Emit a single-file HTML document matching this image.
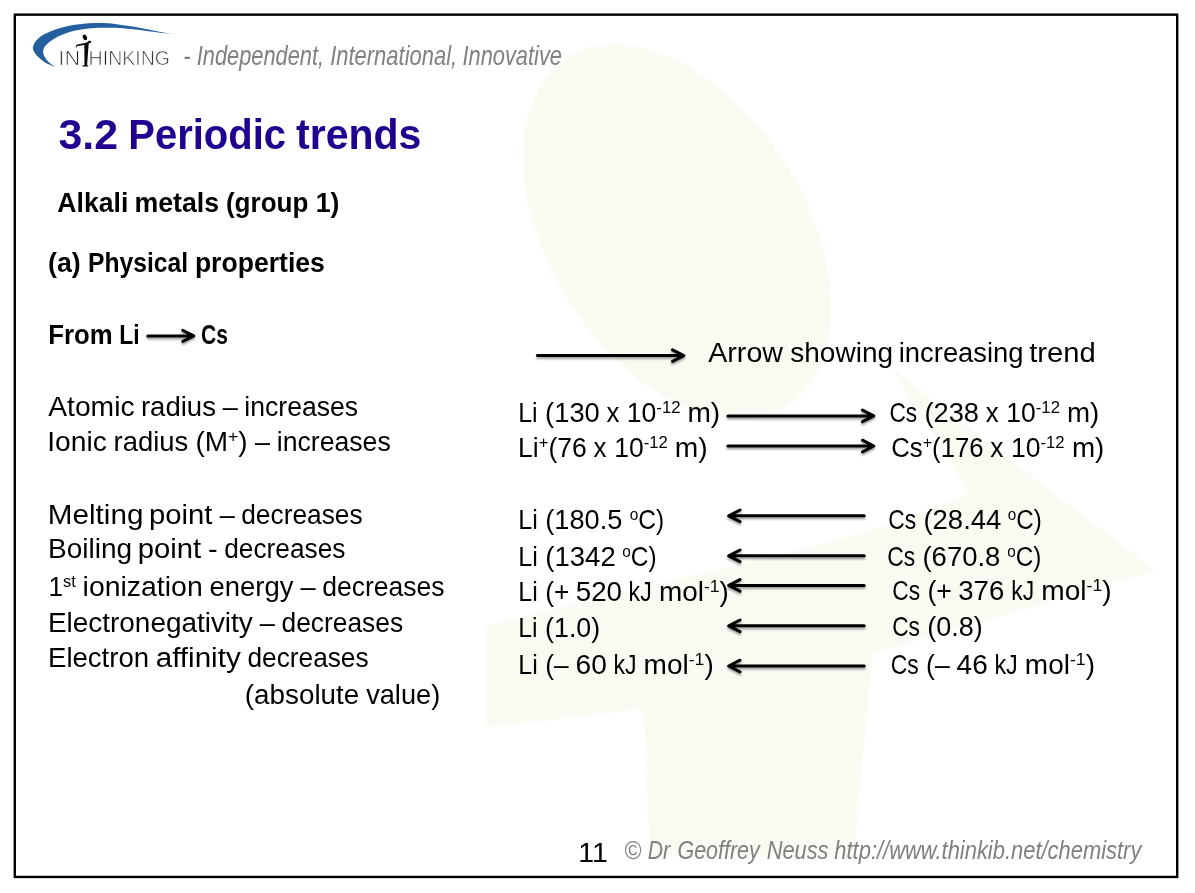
<!DOCTYPE html>
<html lang="en"><head><meta charset="utf-8"><title>3.2 Periodic trends</title>
<style>
html,body{margin:0;padding:0;background:#fff}
body{width:1195px;height:893px;overflow:hidden}
svg{display:block;font-family:"Liberation Sans", sans-serif}
text{white-space:pre}
#tx{opacity:0.999}
</style></head>
<body>
<svg width="1195" height="893" viewBox="0 0 1195 893">
<defs><filter id="sh" x="-5%" y="-100%" width="110%" height="300%"><feGaussianBlur in="SourceAlpha" stdDeviation="1.1"/><feOffset dx="0.3" dy="1.6"/><feComponentTransfer><feFuncA type="linear" slope="0.38"/></feComponentTransfer><feMerge><feMergeNode/><feMergeNode in="SourceGraphic"/></feMerge></filter><filter id="wb" x="-2%" y="-2%" width="104%" height="104%"><feGaussianBlur stdDeviation="0.9"/></filter></defs>
<rect width="1195" height="893" fill="#fff"/>
<g fill="#faf9f2" filter="url(#wb)">
<ellipse cx="677" cy="232" rx="206" ry="128.6" transform="rotate(58 677 232)"/>
<path d="M486.6 625.6 L800 549.5 Q905.4 523.9 968.8 492.2 L891.4 368 L1155.2 570.7 L877 652.4 Q872.6 653.7 872.2 658 L853.5 855.5 L650.3 855.5 L643.6 713 Q643.4 709.2 639.5 709.6 L486.6 727.4Z"/>
</g>
<rect x="14.8" y="14.65" width="1162.4" height="862.3" fill="none" stroke="#000" stroke-width="2.4"/>
<path fill="#24609f" d="M55.1 67.2C53.4 66.4 47.6 63.9 44.7 62.2C41.9 60.5 39.8 58.6 38.0 56.8C36.2 55.0 34.8 53.0 34.0 51.5C33.2 50.0 33.0 49.3 33.0 48.1C33.0 46.9 33.2 45.7 34.0 44.1C34.8 42.5 36.2 40.4 38.0 38.7C39.8 37.0 41.9 35.6 44.7 34.1C47.5 32.6 50.9 31.1 54.8 29.7C58.7 28.3 63.8 26.9 68.2 26.0C72.7 25.1 77.0 24.5 81.5 24.0C86.0 23.5 90.5 23.1 94.9 23.0C99.3 22.9 104.1 23.0 108.0 23.2C111.9 23.4 113.1 23.7 118.1 24.4C123.1 25.1 131.5 26.2 138.2 27.4C144.9 28.6 152.4 30.3 158.2 31.4C164.0 32.5 170.5 33.7 173.0 34.2C170.5 33.9 164.0 33.2 158.2 32.5C152.4 31.8 144.9 30.6 138.2 29.8C131.5 29.1 123.1 28.3 118.1 28.0C113.1 27.7 111.9 27.8 108.0 27.8C104.1 27.8 99.3 27.7 94.9 28.0C90.5 28.3 86.0 28.7 81.5 29.4C77.0 30.1 72.1 31.2 68.2 32.4C64.3 33.6 61.1 34.9 58.1 36.4C55.1 37.9 52.3 39.7 50.1 41.4C47.9 43.1 45.9 45.1 44.7 46.8C43.5 48.5 43.2 49.9 43.1 51.5C43.0 53.1 43.6 54.5 44.4 56.2C45.2 57.9 46.3 59.7 48.1 61.5C49.9 63.3 53.9 66.2 55.1 67.2Z"/>
<g fill="#0a0a0a"><ellipse cx="84.9" cy="37.4" rx="2.0" ry="2.9" transform="rotate(-25 84.9 37.4)"/><path d="M75.8 48.6 C75.7 46.6 76 45.2 77.4 44.6 C80.5 43.9 84 43.4 86.8 42.6 L89.3 40.6 L91.7 41.7 L90.6 42.8 L88.7 43.4 L87.1 65 L88.3 65.8 L88.3 66.6 L82.2 66.6 L82.2 65.8 L84.5 65 L84.3 44.9 C82 45.3 79.6 45.6 77.6 46 C76.6 46.4 76.3 47.4 75.8 48.6Z"/></g>
<g fill="none" stroke="#000" stroke-width="3" stroke-linecap="round" stroke-linejoin="round" filter="url(#sh)">
<path d="M147.80 335.90H193.30 M182.80 330.40L193.80 335.90L182.80 341.40"/>
<path d="M537.40 355.60H683.30 M672.50 349.80L683.80 355.60L672.50 361.40"/>
<path d="M727.90 415.90H873.30 M862.50 410.10L873.80 415.90L862.50 421.70"/>
<path d="M727.90 446.00H873.30 M862.50 440.20L873.80 446.00L862.50 451.80"/>
<path d="M864.20 515.80H729.20 M740.00 510.00L728.70 515.80L740.00 521.60"/>
<path d="M864.20 555.80H729.20 M740.00 550.00L728.70 555.80L740.00 561.60"/>
<path d="M864.20 585.40H729.20 M740.00 579.60L728.70 585.40L740.00 591.20"/>
<path d="M864.20 625.80H729.20 M740.00 620.00L728.70 625.80L740.00 631.60"/>
<path d="M864.20 666.00H729.20 M740.00 660.20L728.70 666.00L740.00 671.80"/>
</g>
<g id="tx">
<text transform="translate(183.17 64.90) scale(0.8318 1)" font-size="27" fill="#808080" font-style="italic">- </text>
<text transform="translate(196.80 64.90) scale(0.8078 1)" font-size="27" fill="#808080" font-style="italic">Independent, </text>
<text transform="translate(330.14 64.90) scale(0.8142 1)" font-size="27" fill="#808080" font-style="italic">International, </text>
<text transform="translate(462.45 64.90) scale(0.8087 1)" font-size="27" fill="#808080" font-style="italic">Innovative</text>
<text transform="translate(58.50 148.70) scale(0.9962 1)" font-size="43" fill="#200090" font-weight="bold">3.2 </text>
<text transform="translate(128.21 148.70) scale(0.9305 1)" font-size="43" fill="#200090" font-weight="bold">Periodic </text>
<text transform="translate(296.08 148.70) scale(0.9541 1)" font-size="43" fill="#200090" font-weight="bold">trends</text>
<text transform="translate(57.31 211.75) scale(0.9852 1)" font-size="27" fill="#000" font-weight="bold">Alkali </text>
<text transform="translate(134.47 211.75) scale(0.9904 1)" font-size="27" fill="#000" font-weight="bold">metals </text>
<text transform="translate(225.93 211.75) scale(0.9661 1)" font-size="27" fill="#000" font-weight="bold">(group </text>
<text transform="translate(315.69 211.75) scale(0.9877 1)" font-size="27" fill="#000" font-weight="bold">1)</text>
<text transform="translate(48.04 271.75) scale(0.9931 1)" font-size="27" fill="#000" font-weight="bold">(a) </text>
<text transform="translate(87.98 271.75) scale(0.9129 1)" font-size="27" fill="#000" font-weight="bold">Physical </text>
<text transform="translate(194.88 271.75) scale(0.9846 1)" font-size="27" fill="#000" font-weight="bold">properties</text>
<text transform="translate(48.17 343.80) scale(0.9539 1)" font-size="27" fill="#000" font-weight="bold">From </text>
<text transform="translate(119.24 343.80) scale(0.8482 1)" font-size="27" fill="#000" font-weight="bold">Li</text>
<text transform="translate(201.08 343.80) scale(0.7801 1)" font-size="27" fill="#000" font-weight="bold">Cs</text>
<text transform="translate(48.22 415.95) scale(1.0469 1)" font-size="27" fill="#000">Atomic </text>
<text transform="translate(140.94 415.95) scale(1.0200 1)" font-size="27" fill="#000">radius </text>
<text transform="translate(222.82 415.95) scale(1.0072 1)" font-size="27" fill="#000">– </text>
<text transform="translate(244.32 415.95) scale(0.9852 1)" font-size="27" fill="#000">increases</text>
<text transform="translate(47.29 451.10) scale(1.0441 1)" font-size="27" fill="#000">Ionic </text>
<text transform="translate(113.51 451.10) scale(1.0160 1)" font-size="27" fill="#000">radius </text>
<text transform="translate(195.48 451.10) scale(1.0352 1)" font-size="27" fill="#000">(M<tspan dy="-9.1" font-size="17.0">+</tspan><tspan dy="9.1">)</tspan> </text>
<text transform="translate(255.04 451.10) scale(1.0072 1)" font-size="27" fill="#000">– </text>
<text transform="translate(276.73 451.10) scale(0.9868 1)" font-size="27" fill="#000">increases</text>
<text transform="translate(47.84 523.60) scale(1.0982 1)" font-size="27" fill="#000">Melting </text>
<text transform="translate(148.99 523.60) scale(1.0845 1)" font-size="27" fill="#000">point </text>
<text transform="translate(219.78 523.60) scale(1.0072 1)" font-size="27" fill="#000">– </text>
<text transform="translate(241.21 523.60) scale(0.9750 1)" font-size="27" fill="#000">decreases</text>
<text transform="translate(47.97 558.40) scale(1.0375 1)" font-size="27" fill="#000">Boiling </text>
<text transform="translate(137.69 558.40) scale(1.0830 1)" font-size="27" fill="#000">point </text>
<text transform="translate(207.96 558.40) scale(1.0763 1)" font-size="27" fill="#000">- </text>
<text transform="translate(224.18 558.40) scale(0.9737 1)" font-size="27" fill="#000">decreases</text>
<text transform="translate(48.38 595.80) scale(0.9707 1)" font-size="27" fill="#000">1<tspan dy="-9.1" font-size="17.0">st</tspan> </text>
<text transform="translate(82.58 595.80) scale(1.0534 1)" font-size="27" fill="#000">ionization </text>
<text transform="translate(209.50 595.80) scale(1.0170 1)" font-size="27" fill="#000">energy </text>
<text transform="translate(300.44 595.80) scale(1.0072 1)" font-size="27" fill="#000">– </text>
<text transform="translate(322.27 595.80) scale(0.9818 1)" font-size="27" fill="#000">decreases</text>
<text transform="translate(47.98 631.65) scale(1.0344 1)" font-size="27" fill="#000">Electronegativity </text>
<text transform="translate(259.87 631.65) scale(1.0072 1)" font-size="27" fill="#000">– </text>
<text transform="translate(281.53 631.65) scale(0.9765 1)" font-size="27" fill="#000">decreases</text>
<text transform="translate(48.01 666.75) scale(1.0213 1)" font-size="27" fill="#000">Electron </text>
<text transform="translate(155.67 666.75) scale(1.0970 1)" font-size="27" fill="#000">affinity </text>
<text transform="translate(247.45 666.75) scale(0.9731 1)" font-size="27" fill="#000">decreases</text>
<text transform="translate(244.83 703.70) scale(1.0308 1)" font-size="27" fill="#000">(absolute </text>
<text transform="translate(366.13 703.70) scale(1.0074 1)" font-size="27" fill="#000">value)</text>
<text transform="translate(708.21 361.95) scale(1.0611 1)" font-size="27" fill="#000">Arrow </text>
<text transform="translate(790.29 361.95) scale(1.0381 1)" font-size="27" fill="#000">showing </text>
<text transform="translate(898.77 361.95) scale(1.0141 1)" font-size="27" fill="#000">increasing </text>
<text transform="translate(1029.16 361.95) scale(1.0805 1)" font-size="27" fill="#000">trend</text>
<text transform="translate(518.22 421.75) scale(0.9261 1)" font-size="27" fill="#000">Li </text>
<text transform="translate(545.12 421.75) scale(1.0114 1)" font-size="27" fill="#000">(130 </text>
<text transform="translate(606.45 421.75) scale(0.9585 1)" font-size="27" fill="#000">x </text>
<text transform="translate(626.74 421.75) scale(0.9866 1)" font-size="27" fill="#000">10<tspan dy="-9.1" font-size="17.0">-12</tspan> </text>
<text transform="translate(687.43 421.75) scale(1.0413 1)" font-size="27" fill="#000">m)</text>
<text transform="translate(889.45 421.75) scale(0.8413 1)" font-size="27" fill="#000">Cs </text>
<text transform="translate(924.48 421.75) scale(1.0097 1)" font-size="27" fill="#000">(238 </text>
<text transform="translate(985.68 421.75) scale(0.9565 1)" font-size="27" fill="#000">x </text>
<text transform="translate(1006.36 421.75) scale(0.9807 1)" font-size="27" fill="#000">10<tspan dy="-9.1" font-size="17.0">-12</tspan> </text>
<text transform="translate(1066.91 421.75) scale(1.0252 1)" font-size="27" fill="#000">m)</text>
<text transform="translate(518.10 456.60) scale(0.9803 1)" font-size="27" fill="#000">Li<tspan dy="-9.1" font-size="17.0">+</tspan><tspan dy="9.1">(76</tspan> </text>
<text transform="translate(593.55 456.60) scale(0.9611 1)" font-size="27" fill="#000">x </text>
<text transform="translate(614.34 456.60) scale(0.9810 1)" font-size="27" fill="#000">10<tspan dy="-9.1" font-size="17.0">-12</tspan> </text>
<text transform="translate(674.74 456.60) scale(1.0442 1)" font-size="27" fill="#000">m)</text>
<text transform="translate(891.14 456.60) scale(0.9547 1)" font-size="27" fill="#000">Cs<tspan dy="-9.1" font-size="17.0">+</tspan><tspan dy="9.1">(176</tspan> </text>
<text transform="translate(990.22 456.60) scale(0.9798 1)" font-size="27" fill="#000">x </text>
<text transform="translate(1011.00 456.60) scale(0.9821 1)" font-size="27" fill="#000">10<tspan dy="-9.1" font-size="17.0">-12</tspan> </text>
<text transform="translate(1071.88 456.60) scale(1.0293 1)" font-size="27" fill="#000">m)</text>
<text transform="translate(518.21 528.95) scale(0.9317 1)" font-size="27" fill="#000">Li </text>
<text transform="translate(545.29 528.95) scale(1.0081 1)" font-size="27" fill="#000">(180.5 </text>
<text transform="translate(629.70 528.95) scale(0.9074 1)" font-size="27" fill="#000"><tspan dy="-9.1" font-size="17.0">o</tspan><tspan dy="9.1">C)</tspan></text>
<text transform="translate(888.30 528.70) scale(0.8435 1)" font-size="27" fill="#000">Cs </text>
<text transform="translate(923.40 528.70) scale(1.0195 1)" font-size="27" fill="#000">(28.44 </text>
<text transform="translate(1007.80 528.70) scale(0.8963 1)" font-size="27" fill="#000"><tspan dy="-9.1" font-size="17.0">o</tspan><tspan dy="9.1">C)</tspan></text>
<text transform="translate(518.21 565.60) scale(0.9331 1)" font-size="27" fill="#000">Li </text>
<text transform="translate(545.31 565.60) scale(1.0201 1)" font-size="27" fill="#000">(1342 </text>
<text transform="translate(622.31 565.60) scale(0.9041 1)" font-size="27" fill="#000"><tspan dy="-9.1" font-size="17.0">o</tspan><tspan dy="9.1">C)</tspan></text>
<text transform="translate(887.19 565.60) scale(0.8469 1)" font-size="27" fill="#000">Cs </text>
<text transform="translate(922.44 565.60) scale(1.0187 1)" font-size="27" fill="#000">(670.8 </text>
<text transform="translate(1007.17 565.60) scale(0.8998 1)" font-size="27" fill="#000"><tspan dy="-9.1" font-size="17.0">o</tspan><tspan dy="9.1">C)</tspan></text>
<text transform="translate(518.22 600.60) scale(0.9285 1)" font-size="27" fill="#000">Li </text>
<text transform="translate(545.25 600.60) scale(0.9780 1)" font-size="27" fill="#000">(+ </text>
<text transform="translate(575.76 600.60) scale(1.0276 1)" font-size="27" fill="#000">520 </text>
<text transform="translate(628.59 600.60) scale(0.8553 1)" font-size="27" fill="#000">kJ </text>
<text transform="translate(658.97 600.60) scale(1.0339 1)" font-size="27" fill="#000">mol<tspan dy="-9.1" font-size="17.0">-1</tspan><tspan dy="9.1">)</tspan></text>
<text transform="translate(892.19 600.40) scale(0.8461 1)" font-size="27" fill="#000">Cs </text>
<text transform="translate(927.46 600.40) scale(0.9894 1)" font-size="27" fill="#000">(+ </text>
<text transform="translate(958.32 600.40) scale(1.0199 1)" font-size="27" fill="#000">376 </text>
<text transform="translate(1011.31 600.40) scale(0.8486 1)" font-size="27" fill="#000">kJ </text>
<text transform="translate(1041.30 600.40) scale(1.0410 1)" font-size="27" fill="#000">mol<tspan dy="-9.1" font-size="17.0">-1</tspan><tspan dy="9.1">)</tspan></text>
<text transform="translate(518.23 636.60) scale(0.9232 1)" font-size="27" fill="#000">Li </text>
<text transform="translate(545.08 636.60) scale(0.9922 1)" font-size="27" fill="#000">(1.0)</text>
<text transform="translate(892.20 636.40) scale(0.8402 1)" font-size="27" fill="#000">Cs </text>
<text transform="translate(927.19 636.40) scale(0.9993 1)" font-size="27" fill="#000">(0.8)</text>
<text transform="translate(518.21 673.70) scale(0.9297 1)" font-size="27" fill="#000">Li </text>
<text transform="translate(545.29 673.70) scale(0.9752 1)" font-size="27" fill="#000">(– </text>
<text transform="translate(575.56 673.70) scale(1.0396 1)" font-size="27" fill="#000">60 </text>
<text transform="translate(613.55 673.70) scale(0.8564 1)" font-size="27" fill="#000">kJ </text>
<text transform="translate(643.57 673.70) scale(1.0384 1)" font-size="27" fill="#000">mol<tspan dy="-9.1" font-size="17.0">-1</tspan><tspan dy="9.1">)</tspan></text>
<text transform="translate(890.69 673.70) scale(0.8477 1)" font-size="27" fill="#000">Cs </text>
<text transform="translate(926.03 673.70) scale(0.9857 1)" font-size="27" fill="#000">(– </text>
<text transform="translate(956.60 673.70) scale(1.0380 1)" font-size="27" fill="#000">46 </text>
<text transform="translate(994.40 673.70) scale(0.8673 1)" font-size="27" fill="#000">kJ </text>
<text transform="translate(1024.87 673.70) scale(1.0368 1)" font-size="27" fill="#000">mol<tspan dy="-9.1" font-size="17.0">-1</tspan><tspan dy="9.1">)</tspan></text>
<text transform="translate(578.21 862.10) scale(1.0364 1)" font-size="27.5" fill="#000">11</text>
<text transform="translate(624.26 858.50) scale(0.9001 1)" font-size="25.5" fill="#808080" font-style="italic">© </text>
<text transform="translate(647.67 858.50) scale(0.8310 1)" font-size="25.5" fill="#808080" font-style="italic">Dr </text>
<text transform="translate(677.50 858.50) scale(0.8417 1)" font-size="25.5" fill="#808080" font-style="italic">Geoffrey </text>
<text transform="translate(766.64 858.50) scale(0.8560 1)" font-size="25.5" fill="#808080" font-style="italic">Neuss </text>
<text transform="translate(834.34 858.50) scale(0.8605 1)" font-size="25.5" fill="#808080" font-style="italic">http://www.thinkib.net/chemistry</text>
<text transform="translate(58.35 65.10) scale(1.1175 1)" font-size="19.5" fill="#222" stroke="#fff" stroke-width="0.7">IN</text>
<text transform="translate(88.59 65.10) scale(1.0023 1)" font-size="19.5" fill="#222" stroke="#fff" stroke-width="0.7">HINKING</text>
</g>
</svg>
</body></html>
